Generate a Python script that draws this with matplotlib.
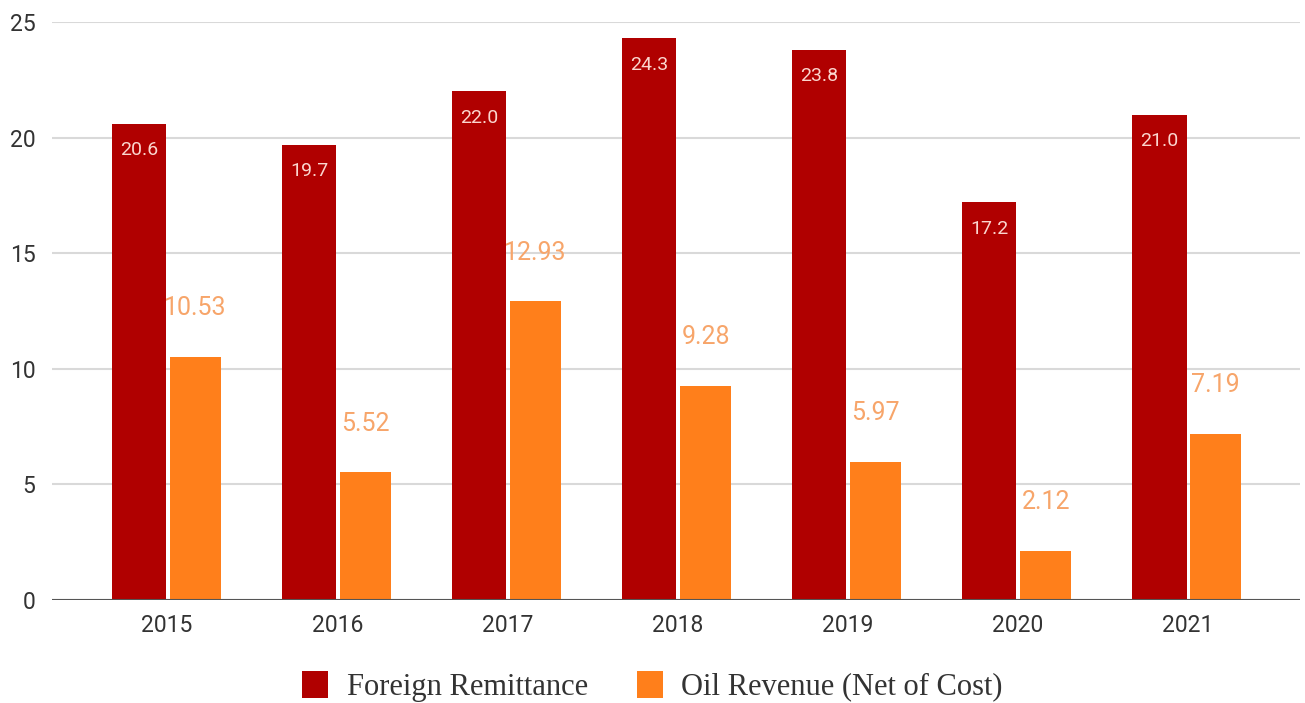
import matplotlib.pyplot as plt
import numpy as np
from matplotlib import rcParams

rcParams['font.family'] = 'Roboto'

years = ['2015', '2016', '2017', '2018', '2019', '2020', '2021']
remittance = [20.6, 19.7, 22.0, 24.3, 23.8, 17.2, 21.0]
oil_revenue = [10.53, 5.52, 12.93, 9.28, 5.97, 2.12, 7.19]
y_ticks = [0, 5, 10, 15, 20, 25]

red = '#b00000'
orange = '#ff7f1b'

fig = plt.figure(figsize=(13.05, 7.03), dpi=100)
ax = fig.add_axes([0.040, 0.1465, 0.956, 0.822])

x = np.arange(len(years))
w = 0.32
bars_r = ax.bar(x - w / 2 - 0.006, remittance, w, color=red, zorder=3)
bars_o = ax.bar(x + w / 2 + 0.006, oil_revenue, w * 0.94, color=orange, zorder=3)

# value labels
for b, v in zip(bars_r, remittance):
    ax.annotate(f'{v:.1f}', (b.get_x() + b.get_width() / 2, v), xytext=(0, -19),
                textcoords='offset points', ha='center', va='center',
                color='#fbd6cf', fontsize=14, zorder=4)
for b, v in zip(bars_o, oil_revenue):
    ax.annotate(f'{v:.2f}', (b.get_x() + b.get_width() / 2, v), xytext=(0, 35),
                textcoords='offset points', ha='center', va='center',
                color='#f7a56a', fontsize=18, zorder=4)

ax.set_xlim(-0.676, 6.66)
ax.set_ylim(0, 25)
ax.set_xticks(x)
ax.set_xticklabels(years)
ax.set_yticks(y_ticks)
ax.tick_params(axis='both', length=0, labelsize=16.5, colors='#333333')
ax.tick_params(axis='x', pad=10)
ax.tick_params(axis='y', pad=12)

ax.grid(axis='y', color='#d9d9d9', linewidth=1.5, zorder=0)
ax.axhline(0, color='#555555', linewidth=1.5, zorder=4)
for s in ax.spines.values():
    s.set_visible(False)

leg = fig.legend([bars_r, bars_o], ['Foreign Remittance', 'Oil Revenue (Net of Cost)'],
                 loc='center', bbox_to_anchor=(0.5, 0.024), ncol=2, frameon=False,
                 prop={'family': 'Liberation Serif', 'size': 22},
                 handlelength=0.85, handleheight=1.0, columnspacing=1.6, handletextpad=0.6)
for t in leg.get_texts():
    t.set_color('#333333')

fig.savefig('out.png', dpi=100)
